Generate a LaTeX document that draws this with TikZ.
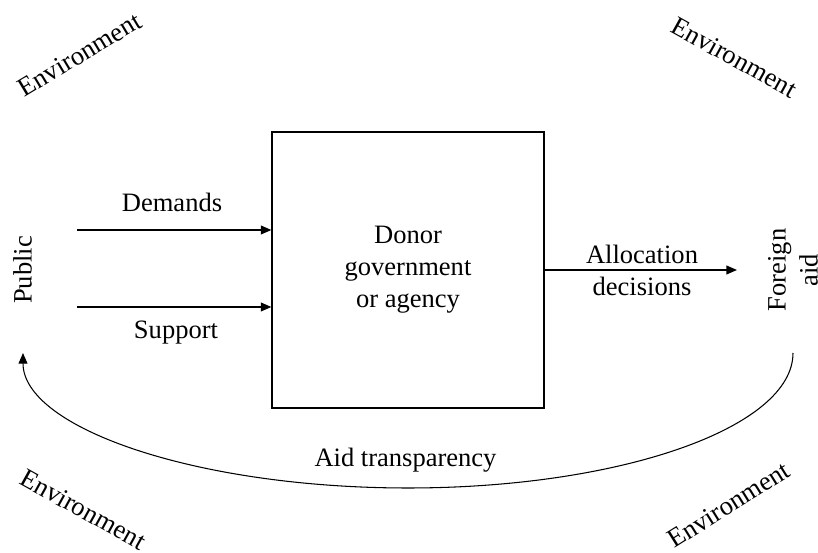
\documentclass[tikz,border=0pt]{standalone}
\usepackage{fontspec}
\setmainfont{Liberation Serif}
\usetikzlibrary{arrows.meta,positioning}

\begin{document}
\begin{tikzpicture}[font=\fontsize{15.1}{18.2}\selectfont,
  flow/.style={-{Triangle[length=6pt,width=5pt]}, line width=0.75pt},
  env/.style={anchor=base}]

\useasboundingbox (0,0) rectangle (16.36,11.06);

\node[draw, line width=0.7pt, minimum width=5.44cm, minimum height=5.52cm, align=center] (donor) at (8.16,5.66) {Donor\\government\\or agency};

\node[rotate=90, anchor=base] (public) at (0.63,5.66) {Public};
\node[rotate=90, align=center] (aid) at (15.86,5.66) {Foreign\\aid};

% inputs from the public
\coordinate (dem0) at (1.54,6.46);
\coordinate (sup0) at (1.54,4.92);
\draw[flow] (dem0) -- (dem0 -| donor.west);
\draw[flow] (sup0) -- (sup0 -| donor.west);
\node[anchor=base] (demands) at (3.44,6.82) {Demands};
\node[anchor=base] (support) at (3.52,4.28) {Support};

% output
\coordinate (out) at (14.74,5.66);
\draw[flow] (donor.east) -- (out);
\node[align=center] (alloc) at (12.84,5.66) {Allocation\\decisions};

% feedback loop
\coordinate (fa) at (15.86,4.00);
\draw[flow, line width=0.6pt] (fa) arc[start angle=0, end angle=-180, x radius=7.7cm, y radius=2.7cm] coordinate (pu);
\node[anchor=base] (transp) at (8.11,1.72) {Aid transparency};

\foreach \x/\y/\a [count=\i] in {1.68/9.82/31, 14.60/9.76/-29, 1.58/0.72/-29, 14.66/0.82/32}
  \node[env, rotate=\a] (env\i) at (\x,\y) {Environment};

\end{tikzpicture}
\end{document}
